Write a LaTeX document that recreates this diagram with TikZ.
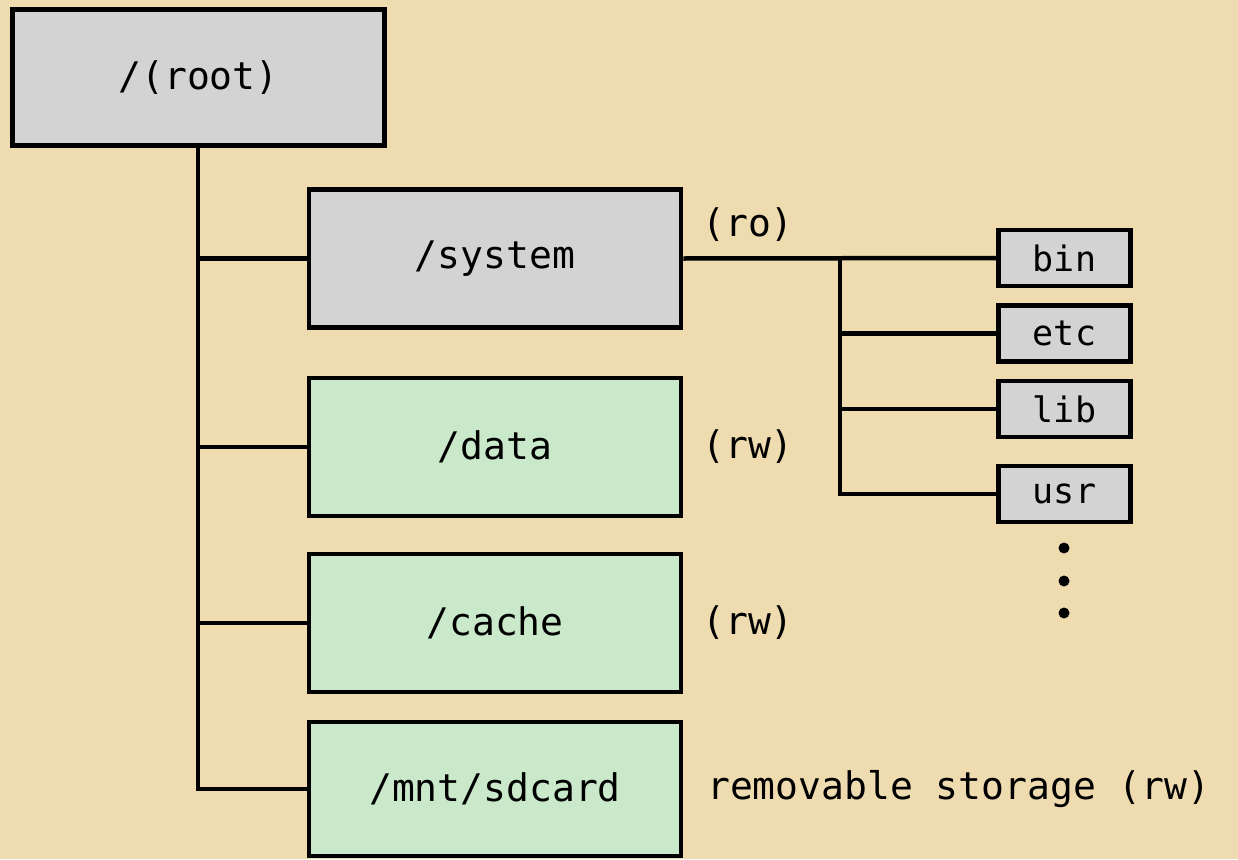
\documentclass[tikz,border=0pt]{standalone}
\usepackage{fontspec}
\setmonofont{DejaVu Sans Mono}
\definecolor{parch}{RGB}{238,219,176}
\definecolor{boxgrey}{RGB}{211,211,211}
\definecolor{boxgreen}{RGB}{201,233,202}
\begin{document}
\begin{tikzpicture}[x=1pt,y=-1pt,
  every node/.style={font=\ttfamily\fontsize{38}{40}\selectfont, inner sep=0pt},
  bigbox/.style={draw=black, line width=4.5pt, minimum width=372pt, minimum height=138pt},
  greybox/.style={bigbox, fill=boxgrey},
  greenbox/.style={bigbox, fill=boxgreen},
  smallbox/.style={draw=black, line width=4.5pt, fill=boxgrey, minimum width=132pt, minimum height=56pt, font=\ttfamily\fontsize{35}{37}\selectfont},
  conn/.style={line width=4.5pt},
  dotnode/.style={circle, fill=black, minimum size=11pt}]
\fill[parch] (0,0) rectangle (1238,859);
\useasboundingbox (0,0) rectangle (1238,859);

\node[greybox, minimum height=136pt] (root) at (198.5,77.5) {/(root)};
\node[greybox] (system) at (495,258.5) {/system};
\node[greenbox] (data) at (495,447) {/data};
\node[greenbox] (cache) at (495,623) {/cache};
\node[greenbox, minimum height=134pt] (mnt) at (495,789) {/mnt/sdcard};

\node[smallbox] (bin) at (1064.5,258) {bin};
\node[smallbox] (etc) at (1064.5,333.5) {etc};
\node[smallbox] (lib) at (1064.5,409) {lib};
\node[smallbox] (usr) at (1064.5,494) {usr};

\node (ro) at (748,225) {(ro)};
\node (rwdata) at (748,447) {(rw)};
\node (rwcache) at (748,623) {(rw)};
\node[anchor=west] (removable) at (707,789) {removable storage (rw)};

\node[dotnode] (d1) at (1064,548) {};
\node[dotnode] (d2) at (1064,581) {};
\node[dotnode] (d3) at (1064,613) {};

\coordinate (trunk) at (198,148);
\coordinate (br) at (840,258);

\draw[conn] (root.south -| trunk) |- (mnt.west);
\draw[conn] (trunk |- system.west) -- (system.west);
\draw[conn] (trunk |- data.west) -- (data.west);
\draw[conn] (trunk |- cache.west) -- (cache.west);

\draw[conn] (system.east) -- (bin.west);
\draw[conn] (br) |- (usr.west);
\draw[conn] (br |- etc.west) -- (etc.west);
\draw[conn] (br |- lib.west) -- (lib.west);
\end{tikzpicture}
\end{document}
